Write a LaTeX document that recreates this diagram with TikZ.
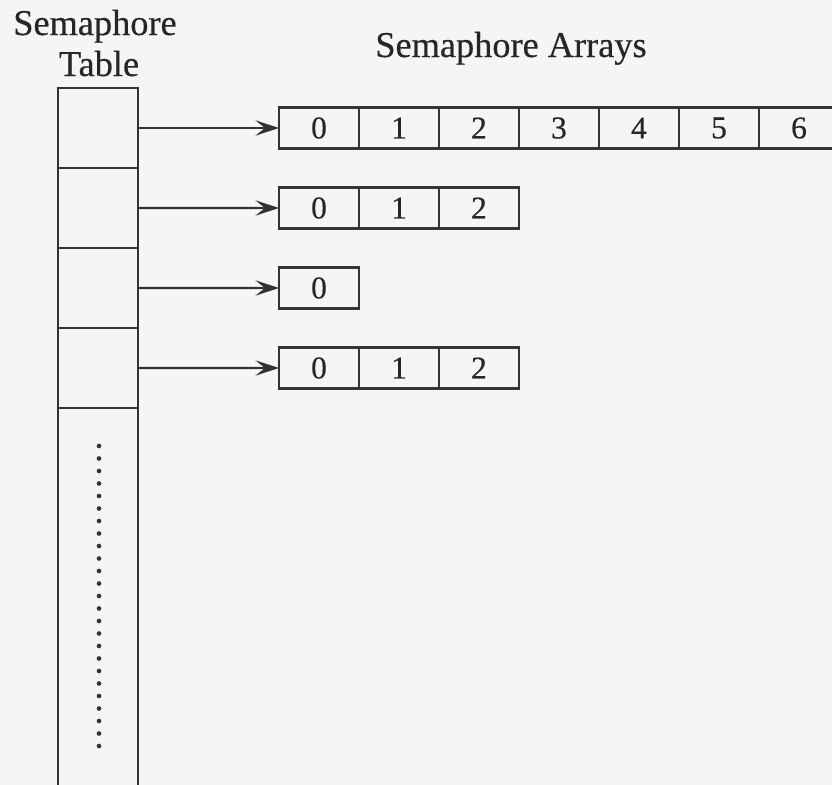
\documentclass[tikz,border=0pt]{standalone}
\usepackage{fontspec}
\setmainfont{Liberation Serif}[FakeBold=0.4]
\usetikzlibrary{arrows.meta,positioning}

\begin{document}
\begin{tikzpicture}[x=0.03cm, y=-0.03cm,
  every node/.style={font=\fontsize{27}{30}\selectfont, text=black!85},
  titlefont/.style={font=\fontsize{31}{35}\selectfont},
  slot/.style={draw=black!80, line width=2.2pt, minimum width=2.4cm, minimum height=2.4cm, inner sep=0pt, outer sep=0pt},
  cell/.style={draw=black!80, line width=2.2pt, minimum width=2.4cm, minimum height=1.23cm, inner sep=0pt, outer sep=0pt},
  link/.style={-{Stealth[length=20pt, width=13pt, inset=8pt]}, draw=black!80, line width=2pt}]

  % === Page ===
  \clip (0,0) rectangle (832,785);
  \fill[black!4] (0,0) rectangle (832,785);

  % === Semaphore table ===
  \node[slot] (tbl1) at (98,128) {};
  \node[slot, below=0pt of tbl1] (tbl2) {};
  \node[slot, below=0pt of tbl2] (tbl3) {};
  \node[slot, below=0pt of tbl3] (tbl4) {};
  \node[slot, minimum height=12cm, below=0pt of tbl4] (tblrest) {};
  % Remaining entries
  \foreach \i in {0,...,24}
    \fill[black!80] (99,446+12.5*\i) circle (2pt);

  % Titles
  \node[titlefont, anchor=base] (semlbl) at (95,35) {Semaphore};
  \node[titlefont, anchor=base] (tbllbl) at (99,76) {Table};
  \node[titlefont, anchor=base] (arrlbl) at (511,57) {Semaphore Arrays};

  % === Semaphore arrays ===
  \foreach \n in {0,...,6}
    \node[cell] (arr1-\n) at (319+80*\n,128) {\n};
  \foreach \n in {0,1,2}
    \node[cell] (arr2-\n) at (319+80*\n,208) {\n};
  \node[cell] (arr3-0) at (319,288) {0};
  \foreach \n in {0,1,2}
    \node[cell] (arr4-\n) at (319+80*\n,368) {\n};

  % Links from table to arrays
  \foreach \row in {1,...,4}
    \draw[link] (tbl\row.east) -- (arr\row-0.west);

\end{tikzpicture}
\end{document}
